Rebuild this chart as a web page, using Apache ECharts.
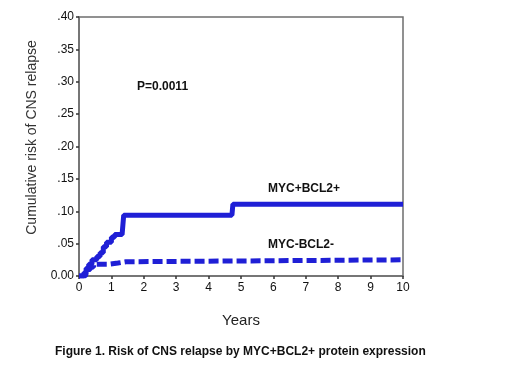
<!DOCTYPE html>
<html>
<head>
<meta charset="utf-8">
<script src="https://cdn.jsdelivr.net/npm/echarts@6/dist/echarts.min.js"></script>
<style>
  html, body { margin: 0; padding: 0; background: #fff; }
  #chart { width: 520px; height: 367px; }
</style>
</head>
<body>
<div id="chart"></div>
<script>
// [years, cumulative risk]
const mycBcl2Pos = [
  [0, 0], [0.15, 0.005], [0.22, 0.012], [0.3, 0.018], [0.4, 0.025],
  [0.55, 0.03], [0.65, 0.036], [0.75, 0.045], [0.85, 0.052], [1.0, 0.06],
  [1.1, 0.064], [1.33, 0.066], [1.38, 0.094], [4.72, 0.094], [4.75, 0.111],
  [10, 0.111],
];
const mycBcl2Neg = [
  [0, 0], [0.2, 0.003], [0.25, 0.01], [0.35, 0.014], [0.45, 0.018],
  [0.9, 0.02], [1.2, 0.022], [1.45, 0.025], [10, 0.025],
];
const seriesNames = ["MYC+BCL2+", "MYC-BCL2-"];
const yTickLabels = ["0.00", ".05", ".10", ".15", ".20", ".25", ".30", ".35", ".40"];
const xTicks = [0, 1, 2, 3, 4, 5, 6, 7, 8, 9, 10];

const blue = "#1f1fd6";
const axisGray = "#6e6e6e";
const font = "Liberation Sans, Arial, sans-serif";

const chart = echarts.init(document.getElementById("chart"));
chart.setOption({
  animation: false,
  backgroundColor: "#fff",
  textStyle: { fontFamily: font },
  grid: {
    left: 79,
    right: 117,
    top: 17,
    bottom: 91,
    show: true,
    borderColor: axisGray,
    borderWidth: 1.5,
  },
  xAxis: {
    type: "value",
    min: xTicks[0],
    max: xTicks[xTicks.length - 1],
    interval: 1,
    name: "Years",
    nameLocation: "middle",
    nameGap: 37,
    nameTextStyle: { fontSize: 15, color: "#222", fontFamily: font },
    axisLine: { lineStyle: { color: axisGray, width: 1.5 } },
    axisTick: { length: 3, lineStyle: { color: "#333", width: 1.5 } },
    axisLabel: { fontSize: 12, color: "#111", margin: 6 },
    splitLine: { show: false },
  },
  yAxis: {
    type: "value",
    min: 0,
    max: 0.4,
    interval: 0.05,
    name: "Cumulative risk of CNS relapse",
    nameLocation: "middle",
    nameGap: 40,
    nameTextStyle: { fontSize: 14, color: "#333", fontFamily: font, padding: [0, 0, 0, 18] },
    axisLine: { show: true, lineStyle: { color: axisGray, width: 1.5 } },
    axisTick: { show: true, length: 3, lineStyle: { color: "#333", width: 1.5 } },
    axisLabel: {
      fontSize: 12,
      color: "#111",
      margin: 5,
      formatter: (v) => yTickLabels[Math.round(v / 0.05)],
    },
    splitLine: { show: false },
  },
  series: [
    {
      name: seriesNames[0],
      type: "line",
      step: "end",
      data: mycBcl2Pos,
      showSymbol: false,
      lineStyle: { color: blue, width: 5 },
    },
    {
      name: seriesNames[1],
      type: "line",
      step: "end",
      data: mycBcl2Neg,
      showSymbol: false,
      lineStyle: { color: blue, width: 5, type: [10, 4] },
    },
  ],
  graphic: [
    {
      type: "text",
      left: 137,
      top: 81,
      style: { text: "P=0.0011", fontSize: 12, fontWeight: "bold", fill: "#111", fontFamily: font },
    },
    {
      type: "text",
      left: 268,
      top: 183,
      style: { text: seriesNames[0], fontSize: 12, fontWeight: "bold", fill: "#111", fontFamily: font },
    },
    {
      type: "text",
      left: 268,
      top: 239,
      style: { text: seriesNames[1], fontSize: 12, fontWeight: "bold", fill: "#111", fontFamily: font },
    },
    {
      type: "text",
      left: 55,
      top: 346,
      style: {
        text: "Figure 1. Risk of CNS relapse by MYC+BCL2+ protein expression",
        fontSize: 12,
        fontWeight: "bold",
        fill: "#111",
        fontFamily: font,
      },
    },
  ],
});
</script>
</body>
</html>
